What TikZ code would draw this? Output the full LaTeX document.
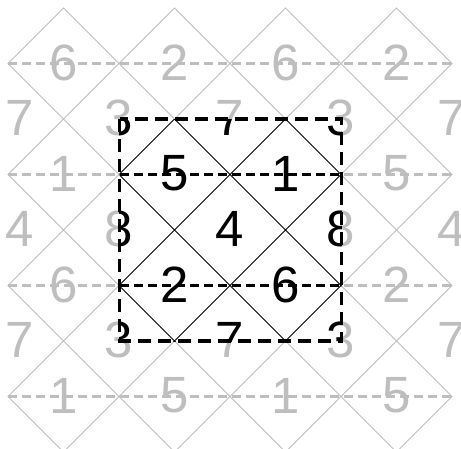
\documentclass[tikz,border=0pt]{standalone}
\usepackage{fontspec}
\setmainfont{Liberation Sans}
\definecolor{lg}{RGB}{190,190,190}
\tikzset{
  lat/.style={line width=0.9pt},
  hdash/.style={line width=2.3pt, dash pattern=on 9pt off 5pt},
  num/.style={font=\fontsize{51}{51}\selectfont, inner sep=0pt, anchor=center},
  border/.style={line width=3.4pt, dash pattern=on 13pt off 7pt}
}
\newcommand{\mytiling}[2]{%
  \foreach \i in {0,...,3}{\foreach \j in {0,...,3}{
    \draw[lat,#1] ({63.5+111*\i},{8+111*\j}) -- ++(55.5,55.5) -- ++(-55.5,55.5) -- ++(-55.5,-55.5) -- cycle;}}
  \foreach \j in {0,...,3}{\draw[hdash,#1] (8,{63.5+111*\j}) -- (452,{63.5+111*\j});}
  \foreach \n [count=\k from 0] in {6,2,6,2,1,5,1,5,6,2,6,2,1,5,1,5}{
    \pgfmathtruncatemacro\ci{mod(\k,4)}\pgfmathtruncatemacro\cj{div(\k,4)}
    \node[num,text=#1] (#2d\k) at ({63.5+111*\ci},{62.5+111*\cj}) {\n};}
  \foreach \n [count=\k from 0] in {7,3,7,3,7,4,8,4,8,4,7,3,7,3,7}{
    \pgfmathtruncatemacro\ci{mod(\k,5)}\pgfmathtruncatemacro\cj{div(\k,5)}
    \pgfmathsetmacro\cx{\ci==0 ? 20 : 8+111*\ci}
    \node[num,text=#1] (#2g\k) at (\cx,{118+111*\cj}) {\n};}
}
\begin{document}
\begin{tikzpicture}[x=1pt,y=-1pt]
\useasboundingbox (0,0) rectangle (461,448);
\clip (0,0) rectangle (461,448);
\mytiling{lg}{g}
\begin{scope}
  \clip (119.5,119) rectangle (341.5,341);
  \fill[white] (119.5,119) rectangle (341.5,341);
  \mytiling{black}{b}
\end{scope}
\draw[border] (119.5,119) rectangle (341.5,341);
\end{tikzpicture}
\end{document}
